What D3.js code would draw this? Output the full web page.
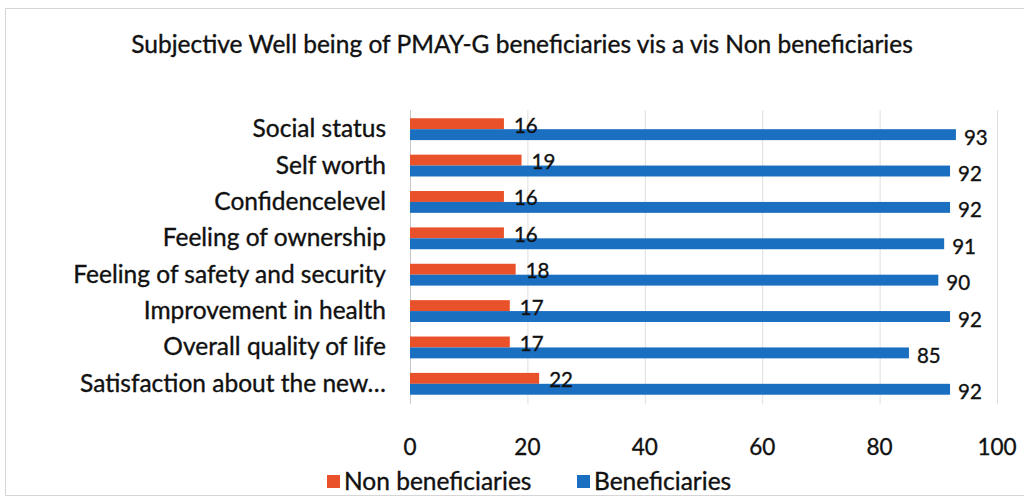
<!DOCTYPE html>
<html>
<head>
<meta charset="utf-8">
<script src="https://cdn.jsdelivr.net/npm/d3@7"></script>
<style>
  body { margin: 0; background: #fff; }
  text { font-family: Lato, "Open Sans", sans-serif; fill: #111; stroke: #111; stroke-width: 0.35px; }
</style>
</head>
<body>
<svg width="1024" height="502"></svg>
<script>
// data
var categories = ["Social status", "Self worth", "Confidencelevel", "Feeling of ownership",
  "Feeling of safety and security", "Improvement in health", "Overall quality of life",
  "Satisfaction about the new\u2026"]
var nonBen = [16, 19, 16, 16, 18, 17, 17, 22]
var ben = [93, 92, 92, 91, 90, 92, 85, 92]
var ticks = [0, 20, 40, 60, 80, 100]
var seriesNames = ["Non beneficiaries", "Beneficiaries"]
var colors = ["#e9512a", "#1b6fc1"]

var svg = d3.select("svg"),
	width = +svg.attr("width"),
	height = +svg.attr("height")

// chart frame
svg.append("rect")
	.attr("x", 5.5).attr("y", 8.5)
	.attr("width", 1030).attr("height", 487)
	.style("fill", "#fff").style("stroke", "#d6d6d6")

svg.append("text")
	.attr("x", 522).attr("y", 53)
	.attr("text-anchor", "middle")
	.style("font-size", "24.5px")
	.text("Subjective Well being of PMAY-G beneficiaries vis a vis Non beneficiaries")

var x = d3.scaleLinear().domain([0, 100]).range([410, 997])
var y = d3.scaleBand().domain(categories).range([111, 402]).paddingInner(0.4).paddingOuter(0.2)

// gridlines
svg.selectAll("line.grid").data(ticks).enter().append("line")
	.attr("class", "grid")
	.attr("x1", (d) => x(d) + 0.5).attr("x2", (d) => x(d) + 0.5)
	.attr("y1", 110).attr("y2", 404)
	.style("stroke", (d) => d == 0 ? "#c8c8c8" : "#dedede")
	.style("stroke-width", 1)

// tick labels
svg.selectAll("text.tick").data(ticks).enter().append("text")
	.attr("class", "tick")
	.attr("x", (d) => x(d)).attr("y", 455)
	.attr("text-anchor", "middle")
	.style("font-size", "22.5px")
	.text((d) => d)

// category labels
svg.selectAll("text.cat").data(categories).enter().append("text")
	.attr("class", "cat")
	.attr("x", 386).attr("y", (d) => y(d) + y.bandwidth() / 2 + 8)
	.attr("text-anchor", "end")
	.style("font-size", "24.5px")
	.text((d) => d)

var bh = y.bandwidth() / 2
var rows = categories.map((c, i) => ({cat: c, a: nonBen[i], b: ben[i]}))

var g = svg.selectAll("g.row").data(rows).enter().append("g").attr("class", "row")

g.append("rect")
	.attr("x", x(0)).attr("y", (d) => y(d.cat))
	.attr("width", (d) => x(d.a) - x(0)).attr("height", bh)
	.style("fill", colors[0])
g.append("rect")
	.attr("x", x(0)).attr("y", (d) => y(d.cat) + bh)
	.attr("width", (d) => x(d.b) - x(0)).attr("height", bh)
	.style("fill", colors[1])

g.append("text")
	.attr("x", (d) => x(d.a) + 10).attr("y", (d) => y(d.cat) + bh / 2 + 9)
	.style("font-size", "20.5px")
	.text((d) => d.a)
g.append("text")
	.attr("x", (d) => x(d.b) + 8).attr("y", (d) => y(d.cat) + bh * 1.5 + 10)
	.style("font-size", "20.5px")
	.text((d) => d.b)

// legend
var legX = [327, 577]
var leg = svg.selectAll("g.leg").data(seriesNames).enter().append("g").attr("class", "leg")
leg.append("rect")
	.attr("x", (d, i) => legX[i]).attr("y", 475)
	.attr("width", 13).attr("height", 13)
	.style("fill", (d, i) => colors[i])
leg.append("text")
	.attr("x", (d, i) => legX[i] + 17).attr("y", 490)
	.style("font-size", "24.5px")
	.text((d) => d)
</script>
</body>
</html>
